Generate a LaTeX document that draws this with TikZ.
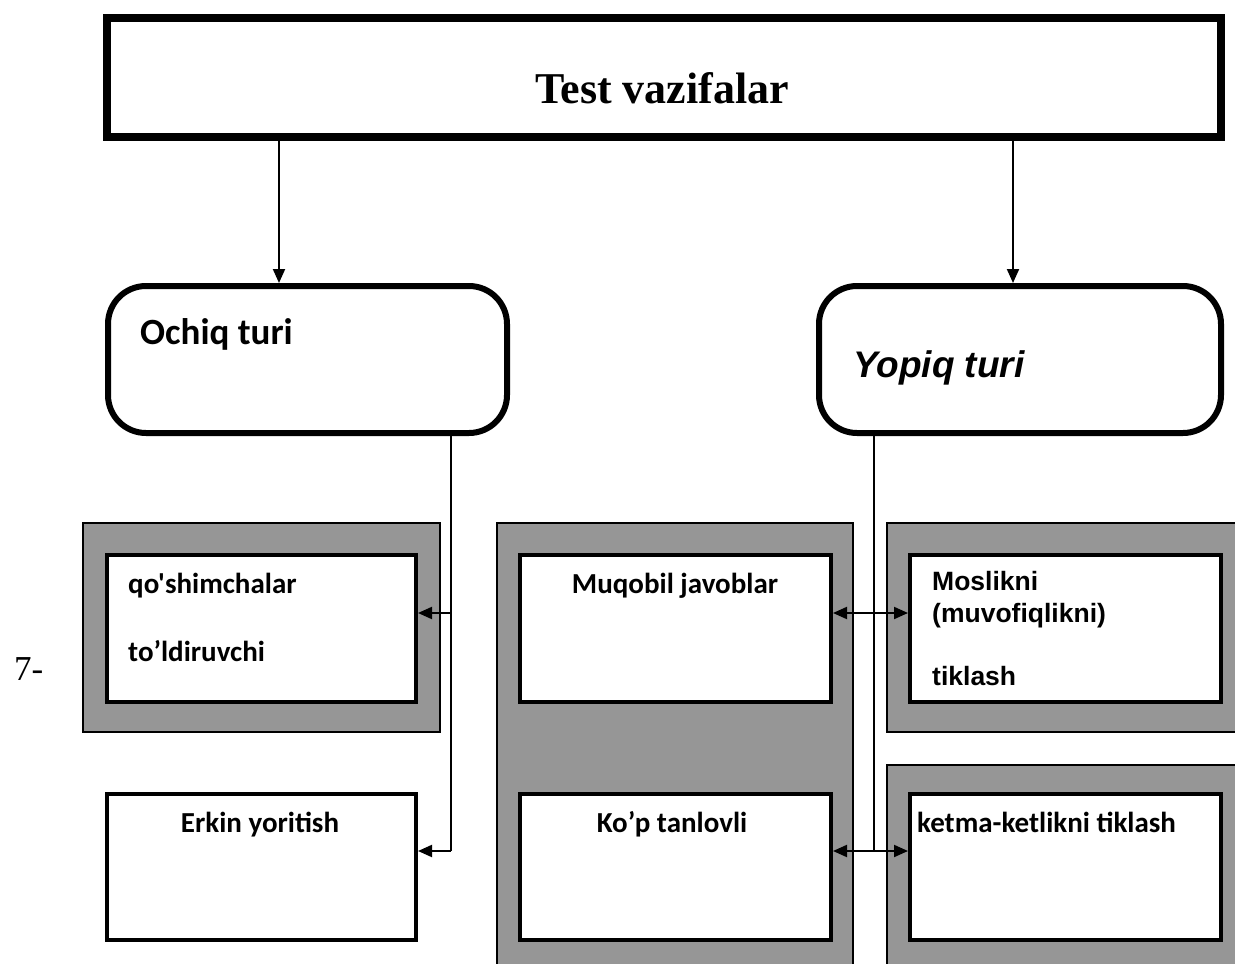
\documentclass[tikz,border=0pt]{standalone}
\usepackage{fontspec}
\setmainfont{Liberation Serif}
\newfontfamily\calib{Carlito}[Ligatures=TeXOff]
\newfontfamily\arialf{Liberation Sans}
\usetikzlibrary{arrows.meta}
\definecolor{boxgray}{RGB}{150,150,150}
\begin{document}
\begin{tikzpicture}[x=1pt,y=-1pt,
  topbox/.style={draw, line width=8pt, minimum width=1114pt, minimum height=119pt, inner sep=0pt},
  roundbox/.style={draw, line width=6pt, rounded corners=38pt, minimum height=147pt, inner sep=0pt},
  graybox/.style={draw, line width=1.5pt, fill=boxgray, inner sep=0pt},
  whitebox/.style={draw, line width=4pt, fill=white, inner sep=0pt},
  conn/.style={line width=2pt},
  tip/.style={-{Triangle[length=14pt,width=12pt]}},
  dtip/.style={{Triangle[length=14pt,width=12pt]}-{Triangle[length=14pt,width=12pt]}},
  cal/.style={font=\calib\bfseries\fontsize{29}{35}\selectfont},
  ari/.style={font=\arialf\bfseries\fontsize{26.5}{32}\selectfont}
]
\useasboundingbox (0,0) rectangle (1235,964);
\clip (0,0) rectangle (1235,964);

% boxes
\node[topbox] (top) at (664,77.5) {};
\node[roundbox, minimum width=399pt] (ochiq) at (307.5,359.5) {};
\node[roundbox, minimum width=402pt] (yopiq) at (1020,359.5) {};

\node[graybox, minimum width=357pt, minimum height=209pt] (lgray) at (261.5,627.5) {};
\node[whitebox, minimum width=309pt, minimum height=147pt] (qosh) at (261.5,628.5) {};
\node[whitebox, minimum width=309pt, minimum height=146pt] (erkin) at (261.5,867) {};

\node[graybox, minimum width=356pt, minimum height=457pt] (mgray) at (675,751.5) {};
\node[whitebox, minimum width=311pt, minimum height=147pt] (muq) at (675.5,628.5) {};
\node[whitebox, minimum width=311pt, minimum height=146pt] (kop) at (675.5,867) {};

\node[graybox, minimum width=358pt, minimum height=209pt] (rgray1) at (1066,627.5) {};
\node[whitebox, minimum width=311pt, minimum height=147pt] (mos) at (1065.5,628.5) {};
\node[graybox, minimum width=358pt, minimum height=215pt] (rgray2) at (1066,872.5) {};
\node[whitebox, minimum width=311pt, minimum height=146pt] (ket) at (1065.5,867) {};

% texts
\node[anchor=base west, inner sep=0pt, font=\bfseries\fontsize{44}{52}\selectfont] (ttop) at (535,103) {Test vazifalar};
\node[anchor=base west, inner sep=0pt, font=\calib\bfseries\fontsize{37}{44}\selectfont] (tochiq) at (140,344) {Ochiq turi};
\node[anchor=base west, inner sep=0pt, font=\arialf\bfseries\itshape\fontsize{37}{44}\selectfont] (tyopiq) at (853,377) {Yopiq turi};
\node[anchor=base west, inner sep=0pt, cal] (tqosh1) at (128,593) {qo's\kern0pthimchalar};
\node[anchor=base west, inner sep=0pt, cal] (tqosh2) at (128,661) {to’ldiruvchi};
\node[anchor=base, inner sep=0pt, cal] (tmuq) at (675,593) {Muqobil javoblar};
\node[anchor=base west, inner sep=0pt, ari] (tmos1) at (932,590) {Moslikni};
\node[anchor=base west, inner sep=0pt, ari] (tmos2) at (932,622) {(muvofiqlikni)};
\node[anchor=base west, inner sep=0pt, ari] (tmos3) at (932,685) {tiklash};
\node[anchor=base, inner sep=0pt, cal] (terkin) at (260,832) {Erkin yoritish};
\node[anchor=base, inner sep=0pt, cal] (tkop) at (672,832) {Ko’p tanlovli};
\node[anchor=base west, inner sep=0pt, cal] (tket) at (917,832) {ketma-ketlikni tiklash};
\node[anchor=base west, inner sep=0pt, font=\fontsize{35}{42}\selectfont] (seven) at (14,680) {7-};

% connector coordinates
\coordinate (ax1) at (279,0);
\coordinate (ax2) at (1013,0);
\coordinate (lx) at (451,0);
\coordinate (rx) at (874,0);
\coordinate (ly1) at (0,613);
\coordinate (ly2) at (0,851);

% connectors
\draw[conn,tip] (top.south -| ax1) -- (ochiq.north -| ax1);
\draw[conn,tip] (top.south -| ax2) -- (yopiq.north -| ax2);

\draw[conn] (ochiq.south -| lx) -- (lx |- ly2);
\draw[conn,tip] (lx |- ly1) -- (qosh.east |- ly1);
\draw[conn,tip] (lx |- ly2) -- (erkin.east |- ly2);

\draw[conn] (yopiq.south -| rx) -- (rx |- ly2);
\draw[conn,dtip] (muq.east |- ly1) -- (mos.west |- ly1);
\draw[conn,dtip] (kop.east |- ly2) -- (ket.west |- ly2);
\end{tikzpicture}
\end{document}
